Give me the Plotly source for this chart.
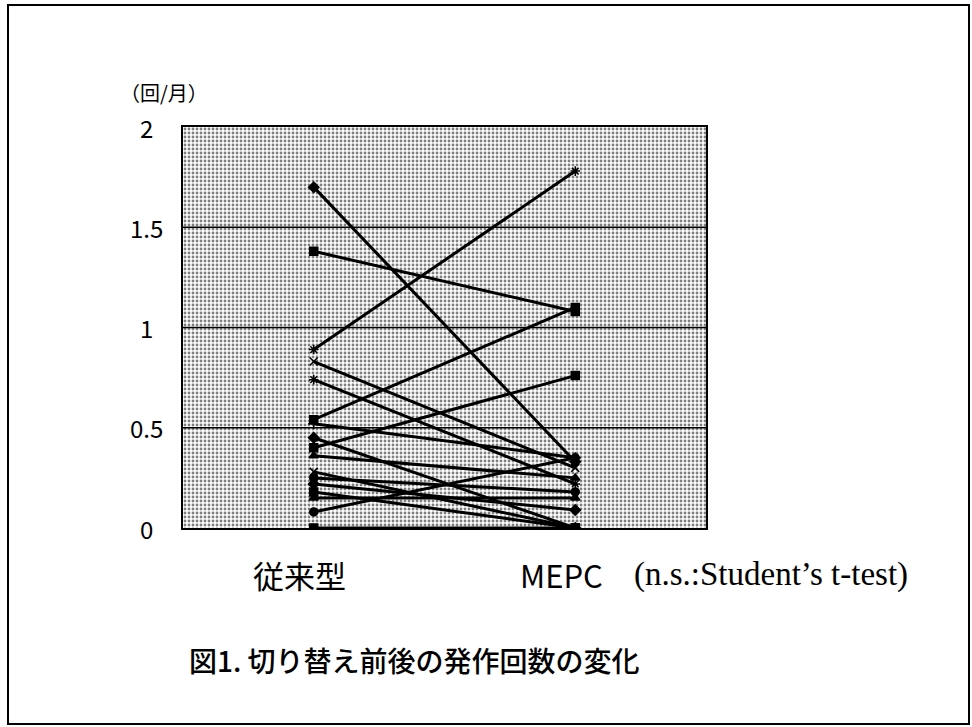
import plotly.graph_objects as go

# Seizure frequency (times/month) before and after switching formulation
categories = ["従来型", "MEPC"]
before = [1.70, 1.38, 0.89, 0.83, 0.74, 0.54, 0.52, 0.45, 0.40, 0.36,
          0.28, 0.25, 0.22, 0.18, 0.15, 0.08, 0.00]
after = [0.33, 1.08, 1.78, 0.30, 0.22, 1.10, 0.35, 0.00, 0.76, 0.25,
         0.00, 0.18, 0.09, 0.00, 0.15, 0.35, 0.00]
y_ticks = [0, 0.5, 1, 1.5, 2]
y_tick_text = ["0", "0.5", "1", "1.5", "2"]
grid_levels = [0.5, 1, 1.5]

symbols = ["diamond", "square", "asterisk", "x-thin", "asterisk", "square",
           "cross-thin", "diamond", "square", "triangle-up", "x-thin",
           "circle", "diamond", "square", "triangle-up", "circle", "square"]

JP = "Noto Sans CJK JP"
x_pos = list(range(len(categories)))
x_lo, x_hi = -0.5, len(categories) - 0.5

fig = go.Figure()

# stippled plot-area background
fig.add_trace(go.Scatter(
    x=[x_lo, x_hi, x_hi, x_lo, x_lo], y=[0, 0, 2, 2, 0],
    mode="lines", fill="toself", line=dict(width=0),
    fillcolor="white",
    fillpattern=dict(shape=".", fgcolor="black", bgcolor="white",
                     size=4, solidity=0.4),
    hoverinfo="skip", showlegend=False))

# horizontal gridlines
for g in grid_levels:
    fig.add_trace(go.Scatter(x=[x_lo, x_hi], y=[g, g], mode="lines",
                             line=dict(color="black", width=1.5),
                             hoverinfo="skip", showlegend=False))

for b, a, s in zip(before, after, symbols):
    fig.add_trace(go.Scatter(
        x=x_pos, y=[b, a], mode="lines+markers",
        line=dict(color="black", width=3),
        marker=dict(symbol=s, size=8, color="black",
                    line=dict(color="black", width=1.5)),
        showlegend=False))

fig.update_layout(
    width=972, height=727,
    margin=dict(l=183, r=266, t=127, b=199),
    paper_bgcolor="white", plot_bgcolor="white",
    font=dict(family=JP, color="black"),
    xaxis=dict(range=[x_lo, x_hi], tickvals=x_pos, showticklabels=False,
               showgrid=False, zeroline=False, ticks="",
               showline=True, linecolor="black", linewidth=2, mirror=True),
    yaxis=dict(range=[0, 2], tickvals=y_ticks, showticklabels=False,
               showgrid=False, zeroline=False, ticks="",
               showline=True, linecolor="black", linewidth=1.5, mirror=True),
)

# category labels below the axis
for xp, c in zip(x_pos, categories):
    fig.add_annotation(text=c, xref="x", yref="paper", x=xp, y=-0.117,
                       xshift=-14, xanchor="center", yanchor="middle",
                       showarrow=False, font=dict(family=JP, size=31))

# y tick labels, centred in a column left of the axis
for v, t in zip(y_ticks, y_tick_text):
    fig.add_annotation(text=t, xref="paper", yref="y", x=-0.069, y=v,
                       xanchor="center", yanchor="middle", showarrow=False,
                       font=dict(family=JP, size=24))

fig.add_annotation(text="（回/月）", xref="paper", yref="paper",
                   x=-0.036, y=1.087, xanchor="center", yanchor="middle",
                   showarrow=False, font=dict(family=JP, size=20))
fig.add_annotation(text="(n.s.:Student’s t-test)", xref="paper", yref="paper",
                   x=0.858, y=-0.117, xanchor="left", yanchor="middle",
                   showarrow=False,
                   font=dict(family="Liberation Serif", size=33))
fig.add_annotation(text="図1. 切り替え前後の発作回数の変化", xref="paper",
                   yref="paper", x=0.008, y=-0.328, xanchor="left",
                   yanchor="middle", showarrow=False,
                   font=dict(family=JP, size=28, weight=500))

# frame around the whole figure
fig.add_shape(type="rect", xref="paper", yref="paper",
              x0=(8 - 183) / 523, x1=(969 - 183) / 523,
              y0=(528 - 724) / 401, y1=(528 - 5) / 401,
              line=dict(color="black", width=2))

fig.write_html("out.html")
